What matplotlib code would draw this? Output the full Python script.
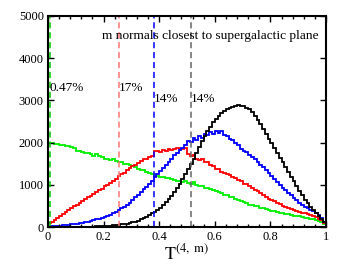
import numpy as np
import matplotlib
matplotlib.use("Agg")
import matplotlib.pyplot as plt
from matplotlib.ticker import MultipleLocator

edges = np.linspace(0, 1, 101)

green = [1990, 1985, 1970, 1975, 1950, 1940, 1925, 1930, 1900, 1880,
         1790, 1800, 1770, 1750, 1760, 1720, 1690, 1720, 1680, 1650,
         1620, 1610, 1590, 1600, 1560, 1540, 1530, 1500, 1490, 1470,
         1450, 1420, 1380, 1350, 1340, 1300, 1280, 1250, 1230, 1220,
         1190, 1180, 1160, 1170, 1130, 1120, 1090, 1100, 1060, 1080,
         1040, 1020, 1060, 990, 960, 970, 920, 930, 890, 880,
         860, 830, 810, 770, 760, 720, 700, 670, 640, 620,
         600, 570, 530, 520, 500, 490, 450, 440, 420, 400,
         390, 370, 360, 340, 330, 310, 300, 290, 270, 260,
         250, 240, 220, 210, 190, 180, 160, 140, 110, 60]

red = [100, 130, 170, 210, 260, 310, 360, 400, 440, 490,
       520, 560, 610, 660, 700, 740, 790, 830, 870, 900,
       960, 1000, 1040, 1090, 1130, 1200, 1250, 1290, 1340, 1400,
       1440, 1480, 1520, 1560, 1600, 1620, 1650, 1690, 1800, 1810,
       1770, 1830, 1800, 1850, 1820, 1860, 1880, 1840, 1860, 1870,
       1720, 1690, 1700, 1620, 1580, 1610, 1550, 1530, 1480, 1450,
       1380, 1370, 1310, 1290, 1260, 1230, 1180, 1160, 1110, 1090,
       1030, 1010, 960, 930, 880, 850, 800, 770, 700, 670,
       630, 610, 560, 540, 500, 480, 440, 430, 400, 380,
       360, 340, 320, 300, 280, 260, 230, 200, 160, 90]

blue = [10, 15, 20, 25, 35, 40, 50, 55, 60, 70,
        80, 90, 100, 110, 130, 140, 160, 180, 190, 210,
        240, 260, 290, 320, 360, 400, 440, 480, 530, 580,
        640, 700, 760, 820, 890, 950, 1020, 1100, 1180, 1250,
        1320, 1400, 1480, 1550, 1620, 1700, 1760, 1820, 1880, 1950,
        2040, 2020, 2100, 2060, 2150, 2120, 2200, 2170, 2240, 2210,
        2280, 2230, 2270, 2180, 2150, 2080, 2060, 1980, 1940, 1850,
        1800, 1770, 1700, 1660, 1600, 1530, 1470, 1410, 1340, 1290,
        1200, 1140, 1060, 1000, 930, 870, 800, 750, 680, 630,
        560, 520, 470, 440, 400, 370, 320, 290, 220, 130]

black = [0, 0, 0, 0, 0, 0, 0, 0, 0, 0,
         0, 2, 3, 5, 6, 8, 10, 12, 15, 18,
         22, 26, 30, 36, 42, 50, 60, 70, 80, 95,
         110, 130, 150, 180, 210, 240, 280, 320, 360, 400,
         460, 520, 590, 660, 740, 830, 920, 1020, 1130, 1250,
         1370, 1500, 1620, 1760, 1900, 2030, 2160, 2270, 2380, 2480,
         2560, 2630, 2690, 2740, 2790, 2830, 2850, 2870, 2880, 2870,
         2860, 2830, 2790, 2720, 2640, 2540, 2440, 2320, 2200, 2090,
         1980, 1870, 1760, 1640, 1530, 1420, 1300, 1190, 1080, 970,
         860, 750, 650, 560, 480, 400, 330, 260, 200, 110]

vlines = [0.007, 0.255, 0.382, 0.514]
vcolors = ["#00cc00", "#ff7777", "#0000ff", "#666666"]
pct_labels = ["0.47%", "17%", "14%", "14%"]
pct_y = [3290, 3290, 3030, 3030]
title_text = "m normals closest to supergalactic plane"

plt.rcParams['font.family'] = ['Liberation Serif', 'DejaVu Serif']
plt.rcParams['mathtext.fontset'] = 'stix'

fig = plt.figure(figsize=(3.58, 2.77), dpi=100)
ax = fig.add_axes([48/358, 1-227/277, 278/358, 211/277])

for vals, col in [(green, "#00ee00"), (red, "#ff0000"), (blue, "#0000ff"), (black, "#000000")]:
    ax.stairs(vals, edges, color=col, lw=1.3, baseline=None)

for x, c in zip(vlines, vcolors):
    ax.axvline(x, color=c, lw=1.1, ls=(0, (4, 2.5)))

for x, lab, y in zip(vlines, pct_labels, pct_y):
    ax.text(x, y, lab, fontsize=9.5, ha='left', va='center')

ax.text(0.975, 4530, title_text, fontsize=9.6, ha='right', va='center')

ax.set_xlim(0, 1)
ax.set_ylim(0, 5000)
ax.set_xticks([0, 0.2, 0.4, 0.6, 0.8, 1.0])
ax.set_xticklabels(["0", "0.2", "0.4", "0.6", "0.8", "1"])
ax.set_yticks([0, 1000, 2000, 3000, 4000, 5000])
ax.xaxis.set_minor_locator(MultipleLocator(0.04))
ax.tick_params(which='both', direction='in', top=True, right=True, labelsize=9, pad=3)
ax.tick_params(which='major', length=4, width=1)
ax.tick_params(which='minor', length=2.5, width=1)
for s in ax.spines.values():
    s.set_linewidth(1.5)

ax.set_xlabel(r'$\mathrm{T}^{(4,\ \mathrm{m})}$', fontsize=13, labelpad=0)

fig.savefig("out.png", dpi=100)
